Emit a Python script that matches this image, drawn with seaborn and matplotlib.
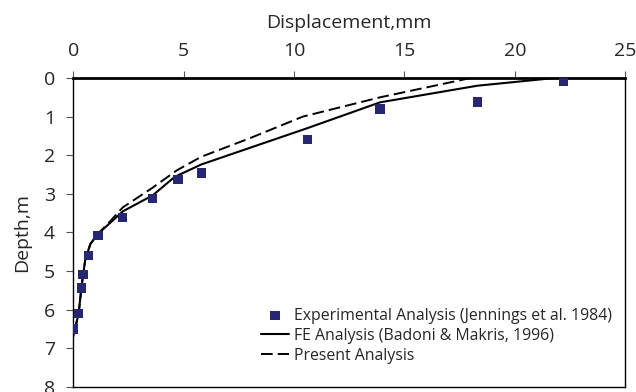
import matplotlib
matplotlib.use("Agg")
import matplotlib.pyplot as plt
import seaborn as sns
import pandas as pd

# experimental points (Jennings et al. 1984)
exp_disp = [22.2, 18.3, 13.9, 10.6, 5.8, 4.75, 3.6, 2.23, 1.13, 0.69, 0.45, 0.38, 0.24, 0.02]
exp_depth = [0.09, 0.62, 0.80, 1.60, 2.46, 2.63, 3.12, 3.62, 4.07, 4.60, 5.08, 5.44, 6.10, 6.50]

# FE analysis (Badoni & Makris, 1996)
fe_disp = [21.8, 18.3, 13.9, 10.6, 5.8, 4.6, 3.6, 2.26, 1.66, 1.1, 0.78, 0.55, 0.38, 0.25, 0.0]
fe_depth = [0.0, 0.2, 0.63, 1.3, 2.24, 2.56, 3.04, 3.45, 3.76, 4.05, 4.3, 4.7, 5.4, 6.1, 6.7]

# present analysis
pr_disp = [18.0, 13.9, 10.4, 8.0, 5.8, 4.7, 3.55, 2.25, 1.66, 1.1, 0.78, 0.55, 0.38, 0.25, 0.0]
pr_depth = [0.0, 0.5, 1.0, 1.56, 2.04, 2.39, 2.86, 3.35, 3.72, 4.05, 4.3, 4.7, 5.4, 6.1, 6.7]

x_ticks = [0, 5, 10, 15, 20, 25]
y_ticks = [0, 1, 2, 3, 4, 5, 6, 7, 8]

sns.set_style("white")
plt.rcParams['font.family'] = ['Open Sans', 'DejaVu Sans']

fig = plt.figure(figsize=(6.36, 3.92), dpi=100)
ax = fig.add_axes([0.115, 0.013, 0.868, 0.788])

exp = pd.DataFrame({'disp': exp_disp, 'depth': exp_depth})
fe = pd.DataFrame({'disp': fe_disp, 'depth': fe_depth})
pr = pd.DataFrame({'disp': pr_disp, 'depth': pr_depth})

sns.scatterplot(x='disp', y='depth', data=exp, ax=ax, marker='s', s=44,
                color='#262673', edgecolor='none', zorder=3,
                label='Experimental Analysis (Jennings et al. 1984)')
sns.lineplot(x='disp', y='depth', data=fe, ax=ax, sort=False, estimator=None,
             color='black', lw=1.5, label='FE Analysis (Badoni & Makris, 1996)')
sns.lineplot(x='disp', y='depth', data=pr, ax=ax, sort=False, estimator=None,
             color='black', lw=1.4, label='Present Analysis')
ax.lines[-1].set_dashes([6, 2.6])

ax.set_xlim(0, 25)
ax.set_ylim(8, 0)
ax.set_xticks(x_ticks)
ax.set_yticks(y_ticks)
ax.xaxis.tick_top()
ax.xaxis.set_label_position('top')
ax.tick_params(axis='x', top=True, bottom=False, direction='out', length=5,
               width=0.8, labelsize=14, pad=8, color='#555555')
ax.tick_params(axis='y', left=True, direction='out', length=5, width=0.8,
               labelsize=14, pad=8, color='#555555')
ax.set_xlabel('Displacement,mm', fontsize=14, labelpad=10)
ax.set_ylabel('Depth,m', fontsize=14, labelpad=9)

for side in ['left', 'right', 'bottom']:
    ax.spines[side].set_color('black')
    ax.spines[side].set_linewidth(1.0)
ax.spines['top'].set_color('black')
ax.spines['top'].set_linewidth(2.0)

ax.legend(loc='lower right', bbox_to_anchor=(0.996, 0.039), frameon=False,
          fontsize=11.4, handlelength=1.8, handletextpad=0.3,
          labelspacing=0.25, borderaxespad=0.3)

fig.savefig('out.png', dpi=100)
